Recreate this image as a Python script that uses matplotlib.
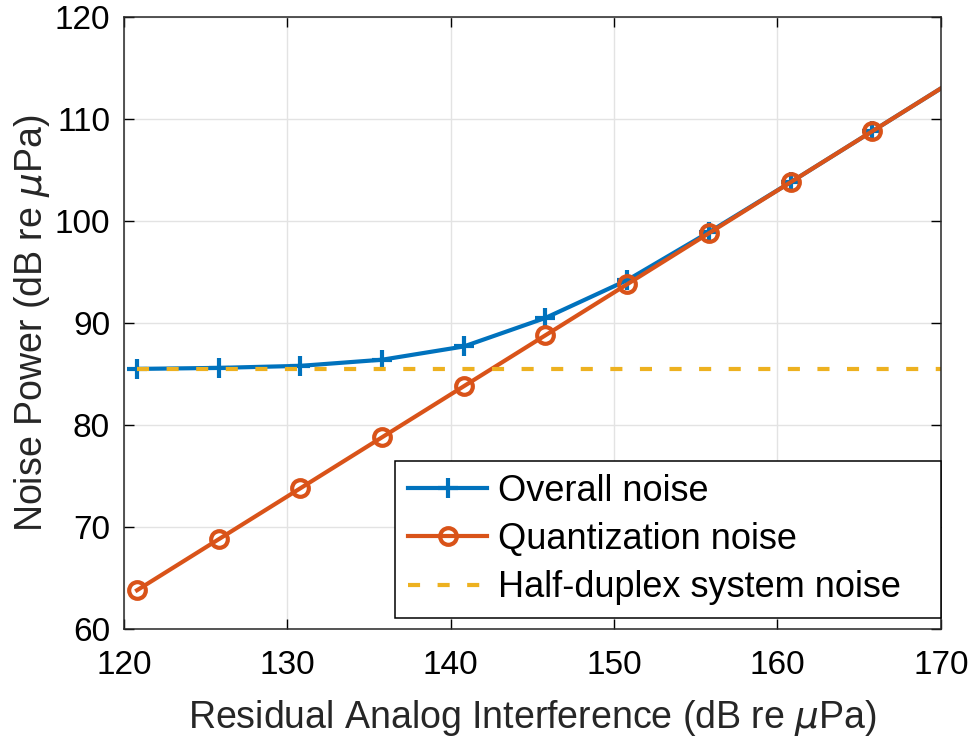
import numpy as np
from matplotlib import pyplot as plt

x_vals = [120.8, 125.8, 130.8, 135.8, 140.8, 145.8, 150.8, 155.8, 160.8, 165.8, 170.8]
overall_noise = [85.5, 85.6, 85.8, 86.4, 87.7, 90.5, 94.2, 98.9, 103.8, 108.8, 113.8]
quant_noise = [63.8, 68.8, 73.8, 78.8, 83.8, 88.8, 93.8, 98.8, 103.8, 108.8, 113.8]
half_duplex = [85.5] * len(x_vals)

blue = "#0072BD"
orange = "#D95319"
yellow = "#EDB120"

plt.rcParams['font.family'] = ['Liberation Sans', 'DejaVu Sans']
plt.rcParams['mathtext.fontset'] = 'dejavusans'

fig = plt.figure(figsize=(9.76, 7.4), dpi=100)
ax = fig.add_axes([0.127, 0.15, 0.837, 0.827])

ax.plot(x_vals, overall_noise, color=blue, lw=3.0, marker='+', ms=14, mew=3.0,
        label='Overall noise')
ax.plot(x_vals, quant_noise, color=orange, lw=3.0, marker='o', ms=12, mew=3.0,
        mfc='none', label='Quantization noise')
ax.plot(x_vals, half_duplex, color=yellow, lw=3.0, ls=(0, (2.9, 4.2)),
        label='Half-duplex system noise')

ax.set_xlim(120, 170)
ax.set_ylim(60, 120)
ax.set_xticks(np.arange(120, 171, 10))
ax.set_yticks(np.arange(60, 121, 10))
ax.grid(True, color='#e3e3e3', lw=1)
ax.set_axisbelow(True)
ax.tick_params(direction='in', top=True, right=True, labelsize=24, length=7,
               width=1)
ax.tick_params(axis='x', pad=15)
ax.tick_params(axis='y', pad=10)
for s in ax.spines.values():
    s.set_linewidth(1.1)
    s.set_color('#262626')

ax.set_xlabel(r'Residual Analog Interference (dB re $\mu$Pa)', fontsize=27,
              color='#262626', labelpad=12)
ax.set_ylabel(r'Noise Power (dB re $\mu$Pa)', fontsize=27, color='#262626',
              labelpad=2)

leg = ax.legend(loc='lower left', bbox_to_anchor=(0.332, 0.018, 0.668, 0.2565),
                mode='expand', fontsize=26, fancybox=False, edgecolor='black',
                framealpha=1, handlelength=2.2, borderaxespad=0.0,
                labelspacing=0.37, handletextpad=0.3, borderpad=0.35)
leg.get_frame().set_linewidth(1.1)

fig.savefig('out.png', dpi=100)
